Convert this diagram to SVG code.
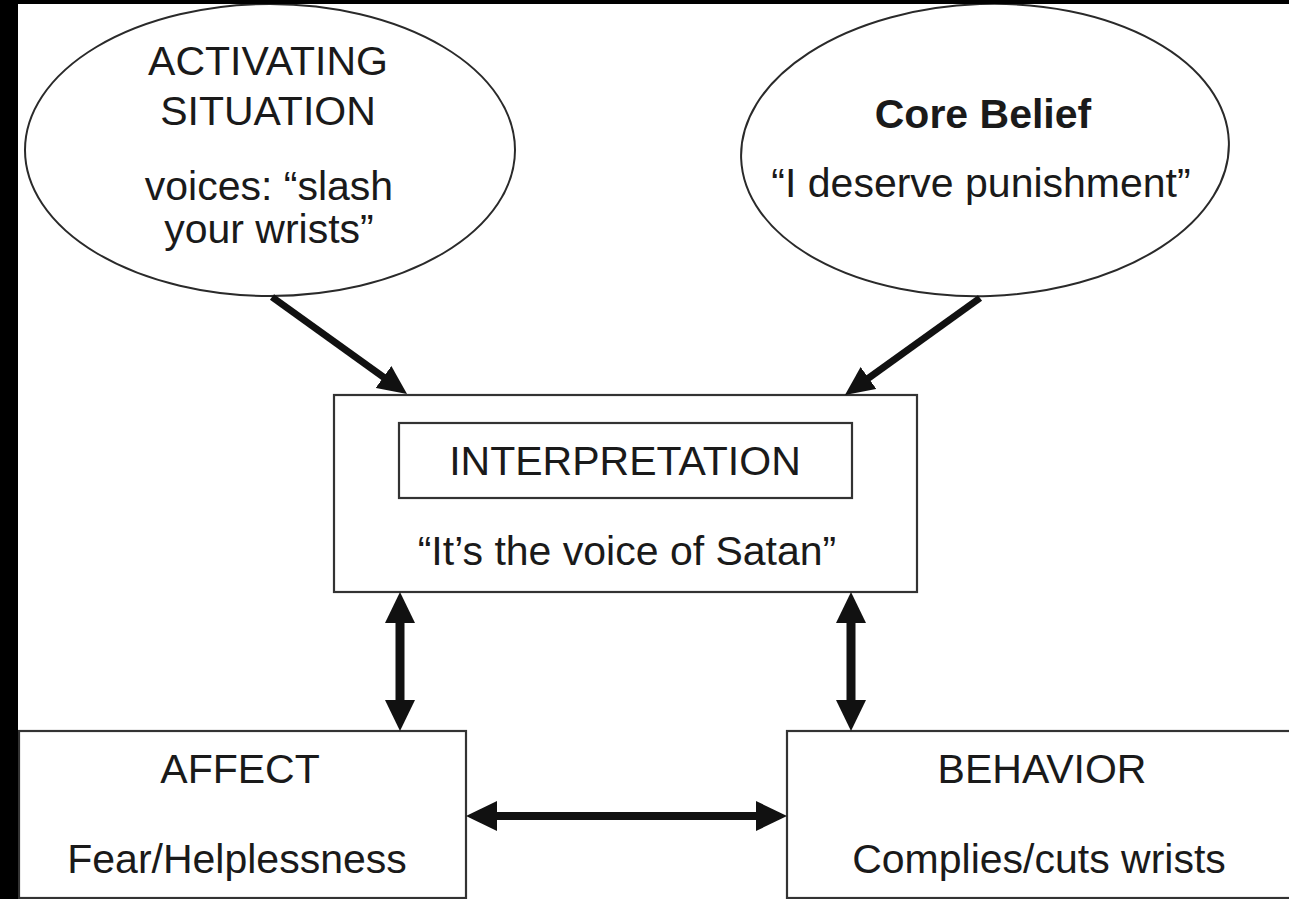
<svg xmlns="http://www.w3.org/2000/svg" width="1289" height="899" viewBox="0 0 1289 899">
<style>
.t{font-family:"Liberation Sans",Arial,sans-serif;font-size:41px;fill:#1a1a1a;text-anchor:middle}
.b{font-weight:bold}
.shape{fill:#fff;stroke:#2a2a2a;stroke-width:2}
.box{fill:#fff;stroke:#333;stroke-width:2.2}
.conn{stroke:#111;fill:none}
</style>
<defs>
<marker id="hd" viewBox="0 0 29 27" markerWidth="29" markerHeight="27" refX="9" refY="13.5" orient="auto-start-reverse" markerUnits="userSpaceOnUse">
<path d="M0,0 L29,13.5 L0,27 Z" fill="#111"/>
</marker>
<marker id="hv" viewBox="0 0 31 30" markerWidth="31" markerHeight="30" refX="11" refY="15" orient="auto-start-reverse" markerUnits="userSpaceOnUse">
<path d="M0,0 L31,15 L0,30 Z" fill="#111"/>
</marker>
</defs>
<rect x="0" y="0" width="1289" height="899" fill="#fff"/>

<g id="activating-situation">
<ellipse class="shape" cx="270" cy="150" rx="245" ry="146"/>
<text class="t" x="268" y="75">ACTIVATING</text>
<text class="t" x="268" y="125">SITUATION</text>
<text class="t" x="269" y="200">voices: “slash</text>
<text class="t" x="269" y="243">your wrists”</text>
</g>

<g id="core-belief">
<ellipse class="shape" cx="985" cy="150" rx="244" ry="146" transform="rotate(-2 985 150)"/>
<text class="t b" x="983" y="128">Core Belief</text>
<text class="t" x="981" y="197">“I deserve punishment”</text>
</g>

<g id="interpretation">
<rect class="box" x="334" y="395" width="583" height="197"/>
<rect class="box" x="399" y="423" width="453" height="75"/>
<text class="t" x="625" y="475">INTERPRETATION</text>
<text class="t" x="627" y="565">“It’s the voice of Satan”</text>
</g>

<g id="affect">
<rect class="box" x="19" y="731" width="447" height="167"/>
<text class="t" x="240" y="783">AFFECT</text>
<text class="t" x="237" y="873">Fear/Helplessness</text>
</g>

<g id="behavior">
<rect class="box" x="787" y="731" width="520" height="167"/>
<text class="t" x="1042" y="783">BEHAVIOR</text>
<text class="t" x="1039" y="873">Complies/cuts wrists</text>
</g>

<g id="connectors">
<line class="conn" x1="272" y1="297" x2="390.8" y2="382.3" stroke-width="7" marker-end="url(#hd)"/>
<line class="conn" x1="980" y1="298" x2="861.2" y2="383.3" stroke-width="7" marker-end="url(#hd)"/>
<line class="conn" x1="400" y1="612" x2="400" y2="711" stroke-width="9" marker-start="url(#hv)" marker-end="url(#hv)"/>
<line class="conn" x1="851" y1="612" x2="851" y2="711" stroke-width="9" marker-start="url(#hv)" marker-end="url(#hv)"/>
<line class="conn" x1="486" y1="816" x2="767" y2="816" stroke-width="8" marker-start="url(#hv)" marker-end="url(#hv)"/>
</g>

<rect x="0" y="0" width="18" height="899" fill="#000"/>
<rect x="0" y="0" width="1289" height="4" fill="#000"/>
</svg>
